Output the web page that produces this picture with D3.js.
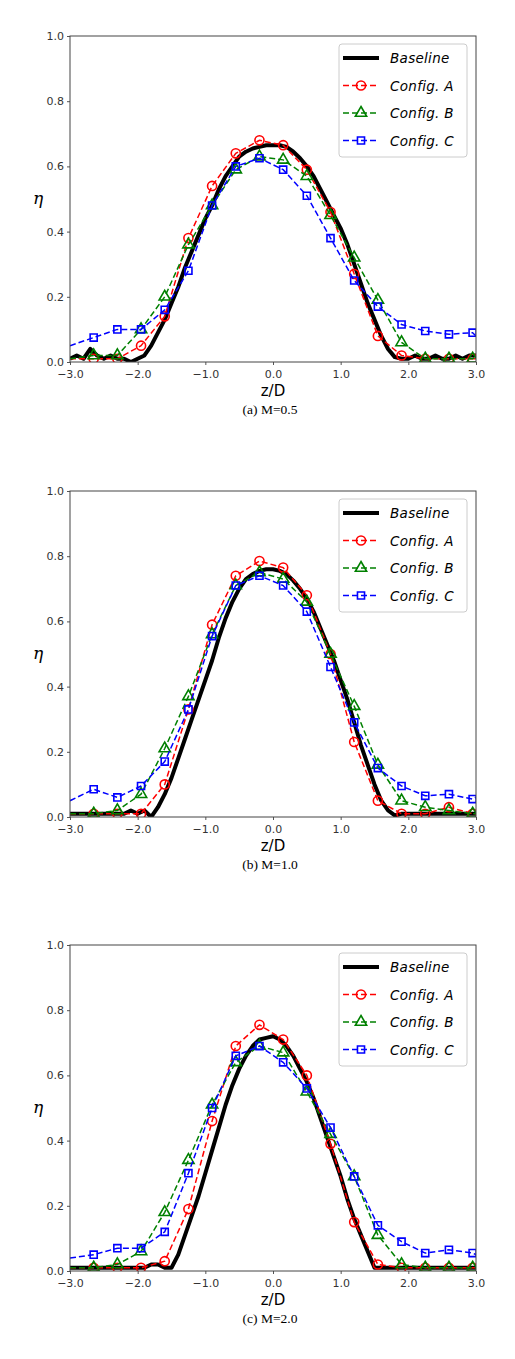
<!DOCTYPE html>
<html>
<head>
<meta charset="utf-8">
<script src="https://cdn.jsdelivr.net/npm/d3@7"></script>
<style>
body{margin:0;background:#fff;}
</style>
</head>
<body>
<svg id="chart" width="515" height="1359"></svg>
<script>
// z grid for baseline (step 0.1) and for config series (markers every 0.35)
const baseZ = d3.range(61).map(i => +(-3 + i * 0.1).toFixed(2));
const cfgZ = [-3.0, -2.65, -2.3, -1.95, -1.6, -1.25, -0.9, -0.55, -0.2, 0.15, 0.5, 0.85, 1.2, 1.55, 1.9, 2.25, 2.6, 2.95, 3.0];

const xTicks = [-3, -2, -1, 0, 1, 2, 3];
const yTicks = [0, 0.2, 0.4, 0.6, 0.8, 1.0];
const seriesNames = ['Baseline', 'Config. A', 'Config. B', 'Config. C'];
const captions = ['(a)  M=0.5', '(b)  M=1.0', '(c)  M=2.0'];

// M=0.5
const base05 = [0.01,0.02,0.01,0.04,0.02,0.01,0.02,0.01,0.01,0.00,0.01,0.02,0.05,0.09,0.13,0.18,0.23,0.29,0.34,0.39,
  0.44,0.48,0.53,0.57,0.60,0.63,0.645,0.655,0.66,0.665,0.665,0.665,0.66,0.645,0.625,0.60,0.57,0.53,0.49,0.45,
  0.41,0.36,0.30,0.24,0.18,0.13,0.08,0.04,0.015,0.01,0.01,0.02,0.01,0.01,0.02,0.01,0.01,0.02,0.01,0.02,0.02];
const a05 = [0.01,0.01,0.01,0.05,0.14,0.38,0.54,0.64,0.68,0.665,0.59,0.46,0.27,0.08,0.02,0.01,0.01,0.01,0.01];
const b05 = [0.01,0.02,0.02,0.10,0.20,0.36,0.48,0.59,0.63,0.62,0.57,0.45,0.32,0.19,0.06,0.01,0.01,0.01,0.02];
const c05 = [0.05,0.075,0.10,0.10,0.16,0.28,0.48,0.60,0.625,0.59,0.51,0.38,0.25,0.17,0.115,0.095,0.085,0.09,0.08];

// M=1.0
const base10 = [0.01,0.01,0.01,0.01,0.01,0.01,0.01,0.01,0.01,0.02,0.01,0.02,0.00,0.03,0.07,0.12,0.18,0.24,0.30,0.36,
  0.42,0.48,0.55,0.61,0.66,0.70,0.73,0.745,0.755,0.76,0.76,0.755,0.745,0.725,0.70,0.67,0.63,0.58,0.53,0.48,
  0.42,0.36,0.29,0.22,0.16,0.10,0.05,0.02,0.005,0.01,0.01,0.01,0.01,0.01,0.01,0.01,0.01,0.01,0.01,0.01,0.01];
const a10 = [0.01,0.01,0.01,0.01,0.10,0.33,0.59,0.74,0.785,0.765,0.68,0.50,0.23,0.05,0.01,0.01,0.03,0.01,0.01];
const b10 = [0.01,0.01,0.02,0.07,0.21,0.37,0.56,0.71,0.75,0.73,0.66,0.50,0.34,0.16,0.05,0.03,0.02,0.01,0.01];
const c10 = [0.05,0.085,0.06,0.095,0.17,0.33,0.555,0.71,0.74,0.71,0.63,0.46,0.29,0.15,0.095,0.065,0.07,0.055,0.06];

// M=2.0
const base20 = [0.01,0.01,0.01,0.01,0.01,0.01,0.01,0.01,0.01,0.01,0.01,0.01,0.02,0.02,0.01,0.01,0.05,0.11,0.17,0.23,
  0.30,0.37,0.44,0.51,0.57,0.62,0.66,0.69,0.71,0.715,0.72,0.71,0.69,0.66,0.62,0.58,0.53,0.47,0.41,0.35,
  0.29,0.22,0.16,0.11,0.06,0.01,0.01,0.01,0.01,0.01,0.01,0.01,0.01,0.01,0.01,0.01,0.01,0.01,0.01,0.01,0.01];
const a20 = [0.01,0.01,0.01,0.01,0.03,0.19,0.46,0.69,0.755,0.71,0.60,0.39,0.15,0.02,0.01,0.01,0.01,0.01,0.01];
const b20 = [0.01,0.01,0.02,0.06,0.18,0.34,0.51,0.64,0.69,0.67,0.55,0.42,0.29,0.11,0.02,0.01,0.01,0.01,0.01];
const c20 = [0.04,0.05,0.07,0.07,0.12,0.30,0.50,0.66,0.69,0.64,0.56,0.44,0.29,0.14,0.09,0.055,0.065,0.055,0.05];

const panels = [
	{top: 36, base: base05, cfg: [a05, b05, c05], caption: captions[0]},
	{top: 491, base: base10, cfg: [a10, b10, c10], caption: captions[1]},
	{top: 945, base: base20, cfg: [a20, b20, c20], caption: captions[2]},
];

const colors = ['#000000', '#ff0000', '#008000', '#0000ff'];
const symbols = [null, d3.symbolCircle, d3.symbolTriangle, d3.symbolSquare];
const symSize = [0, 65, 55, 50];

let left = 70, right = 476, plotH = 326;

const svg = d3.select('#chart');

const x = d3.scaleLinear().domain([-3, 3]).range([left, right]);

panels.forEach((p, pi)=>{
	const y = d3.scaleLinear().domain([0, 1]).range([p.top + plotH, p.top]);
	const g = svg.append('g');

	g.append('defs').append('clipPath').attr('id', `clip${pi}`)
		.append('rect').attr('x', left).attr('y', p.top).attr('width', right - left).attr('height', plotH);

	const plot = g.append('g').attr('clip-path', `url(#clip${pi})`);

	// baseline
	plot.append('path')
		.datum(baseZ.map((z, i) => [z, p.base[i]]))
		.attr('fill', 'none').attr('stroke', '#000').attr('stroke-width', 4)
		.attr('stroke-linejoin', 'round')
		.attr('d', d3.line().x(d => x(d[0])).y(d => y(d[1])));

	p.cfg.forEach((vals, si)=>{
		const c = colors[si + 1];
		const pts = cfgZ.map((z, i) => [z, vals[i]]);
		plot.append('path')
			.datum(pts)
			.attr('fill', 'none').attr('stroke', c).attr('stroke-width', 1.5)
			.attr('stroke-dasharray', '6,3')
			.attr('d', d3.line().x(d => x(d[0])).y(d => y(d[1])));
		plot.selectAll(null)
			.data(pts.slice(1, -1))
			.enter()
			.append('path')
			.attr('d', d3.symbol().type(symbols[si + 1]).size(symSize[si + 1]))
			.attr('transform', d => `translate(${x(d[0])},${y(d[1])})`)
			.attr('fill', 'none').attr('stroke', c).attr('stroke-width', 1.6);
	});

	// axes
	g.append('g')
		.attr('transform', `translate(0,${p.top + plotH})`)
		.call(d3.axisBottom(x).tickValues(xTicks).tickSize(3).tickFormat(d3.format('.1f')))
		.call(a => a.selectAll('text').attr('font-size', 11).attr('fill', '#333').attr('dy', '0.9em'))
		.call(a => a.select('.domain').remove());
	g.append('g')
		.attr('transform', `translate(${left},0)`)
		.call(d3.axisLeft(y).tickValues(yTicks).tickSize(3).tickFormat(d3.format('.1f')))
		.call(a => a.selectAll('text').attr('font-size', 11).attr('fill', '#333'))
		.call(a => a.select('.domain').remove());
	g.selectAll('.tick line').attr('stroke', '#555');
	g.selectAll('.tick text').attr('font-family', 'DejaVu Sans');

	g.append('rect')
		.attr('x', left).attr('y', p.top).attr('width', right - left).attr('height', plotH)
		.attr('fill', 'none').attr('stroke', '#444').attr('stroke-width', 1);

	g.append('text').text('η')
		.attr('x', 33).attr('y', p.top + plotH / 2 + 5)
		.attr('font-family', 'DejaVu Serif').attr('font-style', 'italic').attr('font-size', 17);

	g.append('text').text('z/D')
		.attr('x', (left + right) / 2).attr('y', p.top + plotH + 34)
		.attr('text-anchor', 'middle')
		.attr('font-family', 'DejaVu Sans').attr('font-size', 15);

	g.append('text').text(p.caption)
		.attr('x', 270).attr('y', p.top + plotH + 52)
		.attr('text-anchor', 'middle')
		.attr('font-family', 'Liberation Serif').attr('font-size', 13.5);

	// legend
	const lg = g.append('g').attr('transform', `translate(339,${p.top + 8})`);
	lg.append('rect').attr('width', 128).attr('height', 113).attr('rx', 3)
		.attr('fill', '#fff').attr('fill-opacity', 0.9).attr('stroke', '#ccc');
	seriesNames.forEach((name, si)=>{
		const yy = 14 + si * 27.5;
		const ln = lg.append('line').attr('x1', 4).attr('x2', 40).attr('y1', yy).attr('y2', yy)
			.attr('stroke', colors[si]).attr('stroke-width', si == 0 ? 4 : 1.5);
		if(si > 0){
			ln.attr('stroke-dasharray', '6,3');
			lg.append('path')
				.attr('d', d3.symbol().type(symbols[si]).size(symSize[si]))
				.attr('transform', `translate(22,${yy})`)
				.attr('fill', 'none').attr('stroke', colors[si]).attr('stroke-width', 1.6);
		}
		lg.append('text').text(name)
			.attr('x', 51).attr('y', yy + 5)
			.attr('font-family', 'DejaVu Sans').attr('font-style', 'italic').attr('font-size', 13.5)
			.attr('letter-spacing', 0.3);
	});
});
</script>
</body>
</html>
